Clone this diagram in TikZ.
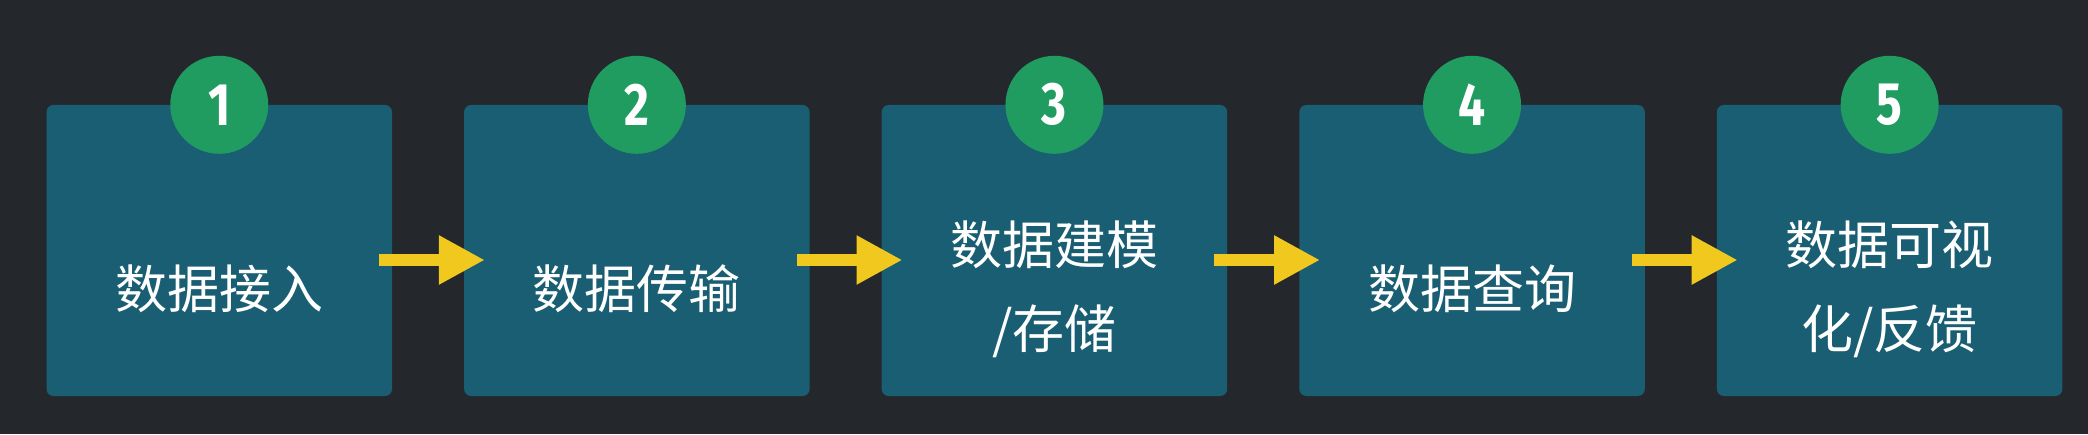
\documentclass[tikz,border=0pt]{standalone}
\usepackage{fontspec}
\setmainfont{Noto Sans CJK SC}
\newfontfamily\numfont{Fira Sans}[FakeStretch=0.8]
\usetikzlibrary{arrows.meta}

\definecolor{bgdark}{RGB}{36,40,45}
\definecolor{boxteal}{RGB}{25,94,115}
\definecolor{badgegreen}{RGB}{32,156,96}
\definecolor{flowyellow}{RGB}{240,200,30}

\tikzset{
  stage/.style={fill=boxteal, rounded corners=7pt, minimum width=345.5pt, minimum height=291pt, inner sep=0pt},
  badge/.style={circle, fill=badgegreen, minimum size=98pt, inner sep=0pt, text=white, font=\numfont\bfseries\fontsize{60}{60}\selectfont},
  caption/.style={text=white, align=center, font=\fontsize{52}{84}\selectfont},
  flow/.style={draw=flowyellow, line width=12pt, -{Triangle[length=46pt,width=46pt]}}
}

\begin{document}
\begin{tikzpicture}[x=1pt,y=1pt]
\fill[bgdark] (0,0) rectangle (2088,434);

% stages with step numbers
\foreach \i/\txt in {1/数据接入, 2/数据传输, 3/{数据建模\\/存储}, 4/数据查询, 5/{数据可视\\化/反馈}} {
  \node[stage] (b\i) at ({219.25+417.6*(\i-1)},183.5) {};
  \node[caption] (t\i) at ([yshift=-38.5pt]b\i.center) {\txt};
  \node[badge] (n\i) at (b\i.north) {\i};
}

% arrows between stages
\foreach \i [evaluate=\i as \j using int(\i+1)] in {1,...,4}
  \draw[flow] ([shift={(-13pt,-9.5pt)}]b\i.east) -- ([shift={(21pt,-9.5pt)}]b\j.west);

\end{tikzpicture}
\end{document}
